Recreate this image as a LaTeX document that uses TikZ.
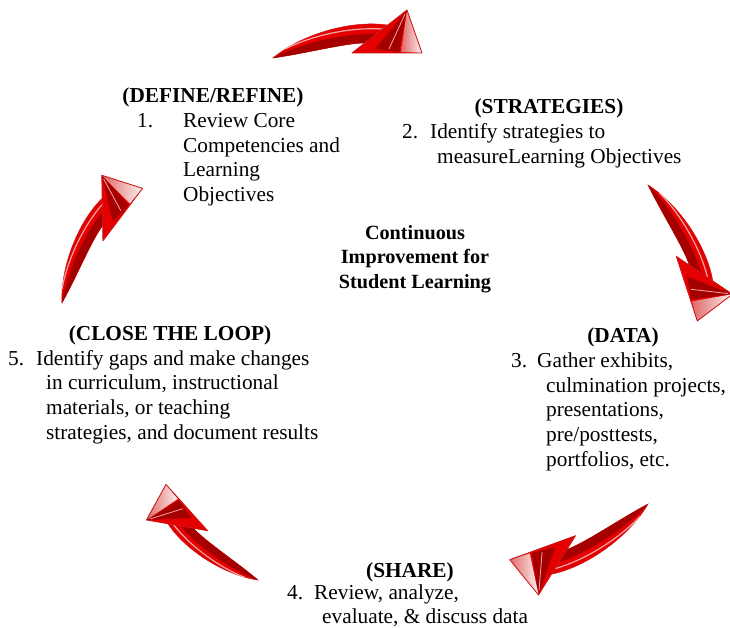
\documentclass[tikz,border=0pt]{standalone}
\usepackage{fontspec}
\setmainfont{Liberation Serif}

\definecolor{arrowred}{RGB}{228,0,0}
\definecolor{arrowdark}{RGB}{165,0,0}
\definecolor{arrowedge}{RGB}{205,20,20}
\definecolor{arrowgloss}{RGB}{246,165,165}
\definecolor{arrowpink}{RGB}{225,105,105}

% glossy curved arrow, tail at the origin, tip at about (149,-5)
\tikzset{
  swoosh/.pic={
    % shaft
    \fill[arrowred, draw=arrowedge, line width=0.5pt]
      (0,0) .. controls (30,-25) and (80,-38) .. (114,-33)
      -- (92,-15) .. controls (72,-15) and (35,-5) .. cycle;
    \fill[arrowdark]
      (3,-2) .. controls (32,-15) and (70,-25) .. (103,-24)
      -- (92,-15) .. controls (72,-15) and (35,-5) .. (0,0) -- cycle;
    \draw[arrowgloss, line width=1.2pt, line cap=round]
      (12,-9) .. controls (40,-23) and (78,-31) .. (109,-29);
    % head
    \fill[arrowred] (79,-5) -- (134,-48) -- (149,-5) -- cycle;
    \fill[arrowdark] (102,-9) -- (134,-48) -- (126,-6) -- cycle;
    \shade[left color=arrowpink, right color=white!90!arrowpink]
      (134,-48) -- (149,-5) -- (128,-6) -- cycle;
    \draw[arrowgloss, line width=0.8pt] (132,-44) -- (116,-9);
    \draw[arrowedge, line width=0.8pt, line join=round]
      (79,-5) -- (134,-48) -- (149,-5) -- cycle;
  }
}

\begin{document}
\begin{tikzpicture}[x=1pt, y=-1pt,
    every node/.style={inner sep=0pt, font=\fontsize{21.3}{24.7}\selectfont},
    head/.style={anchor=base, font=\fontsize{21.3}{24.7}\selectfont\bfseries},
    body/.style={anchor=base west}]
  \useasboundingbox (0,0) rectangle (730,628);

  % the five arrows of the cycle
  \pic at (273,58) {swoosh};
  \pic[rotate=-72, scale=0.97] at (648,185) {swoosh};
  \pic[rotate=-160] at (648,504) {swoosh};
  \pic[rotate=132, scale=0.89] at (258,580) {swoosh};
  \pic[rotate=53, scale=0.94] at (62,303) {swoosh};

  % centre
  \node[head, font=\fontsize{20.2}{24}\selectfont\bfseries] (goal) at (415,240)
    {\begin{tabular}[t]{@{}c@{}}Continuous\\Improvement for\\Student Learning\end{tabular}};

  % step 1
  \node[head] (define) at (213,103) {(DEFINE/REFINE)};
  \node[body] (definetext) at (137,127.5) {\begin{tabular}[t]{@{}l@{}}\makebox[46pt][l]{1.}Review Core\\
    \hspace*{46pt}Competencies and\\ \hspace*{46pt}Learning\\ \hspace*{46pt}Objectives\end{tabular}};

  % step 2
  \node[head] (strategies) at (549,114) {(STRATEGIES)};
  \node[body] (strategiestext) at (402,139) {\begin{tabular}[t]{@{}l@{}}\makebox[28pt][l]{2.}Identify strategies to\\
    \hspace*{35pt}measureLearning Objectives\end{tabular}};

  % step 3
  \node[head] (data) at (623,342) {(DATA)};
  \node[body] (datatext) at (511,367.5) {\begin{tabular}[t]{@{}l@{}}\makebox[26pt][l]{3.}Gather exhibits,\\
    \hspace*{35pt}culmination projects,\\ \hspace*{35pt}presentations,\\
    \hspace*{35pt}pre/posttests,\\ \hspace*{35pt}portfolios, etc.\end{tabular}};

  % step 4
  \node[head] (share) at (410,577) {(SHARE)};
  \node[body] (sharetext) at (287,599) {\begin{tabular}[t]{@{}l@{}}\makebox[27pt][l]{4.}Review, analyze,\\
    \hspace*{35pt}evaluate, \& discuss data\end{tabular}};

  % step 5
  \node[head] (close) at (170,340) {(CLOSE THE LOOP)};
  \node[body] (closetext) at (8,365) {\begin{tabular}[t]{@{}l@{}}\makebox[28pt][l]{5.}Identify gaps and make changes\\
    \hspace*{38pt}in curriculum, instructional\\ \hspace*{38pt}materials, or teaching\\
    \hspace*{38pt}strategies, and document results\end{tabular}};
\end{tikzpicture}
\end{document}
